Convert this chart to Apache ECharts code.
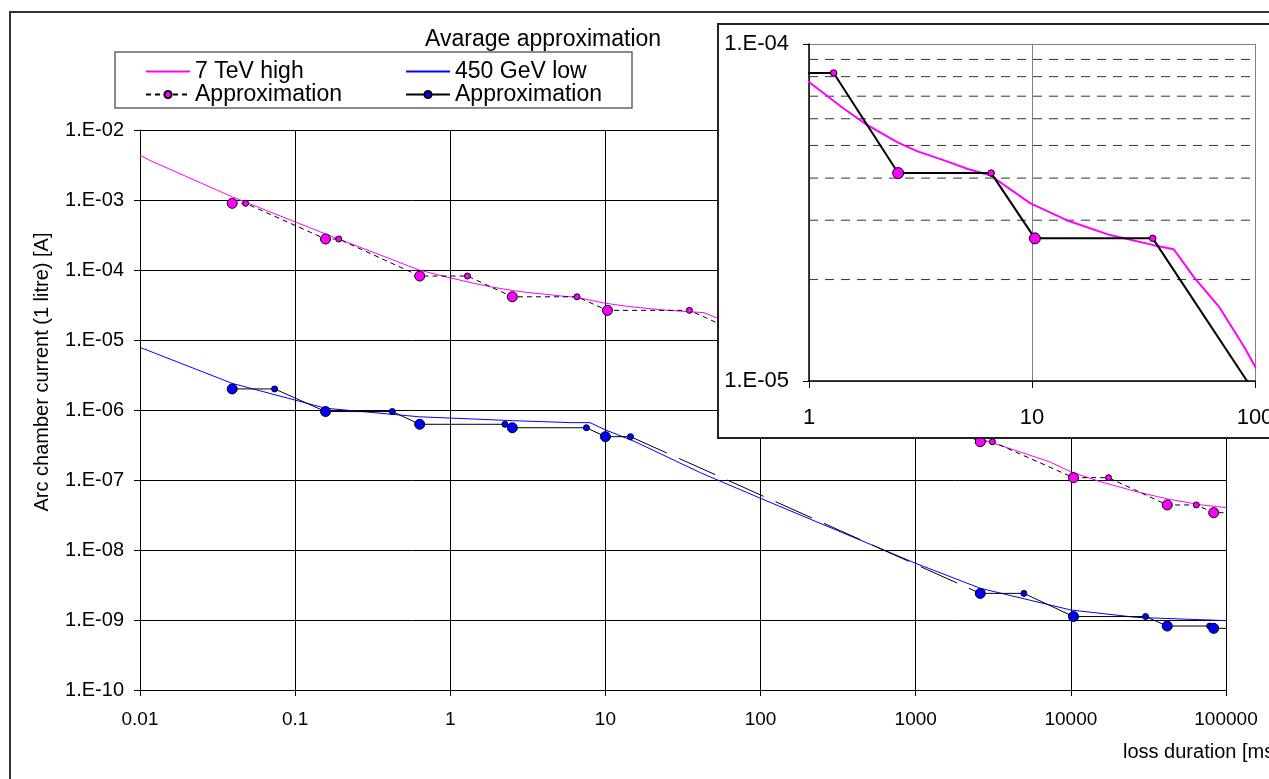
<!DOCTYPE html>
<html>
<head>
<meta charset="utf-8">
<script src="https://cdn.jsdelivr.net/npm/echarts@6/dist/echarts.min.js"></script>
<style>
html, body { margin: 0; padding: 0; background: #fff; }
#chart { width: 1269px; height: 779px; }
</style>
</head>
<body>
<div id="chart"></div>
<script>
// 7 TeV high (magenta curve), loss duration [ms] -> current [A]
const highX = [0.01, 0.0115, 0.0393, 0.157, 0.63, 0.955, 1.4, 1.82, 2.51, 3.07, 4.1, 5.19, 6.5, 9.8, 14.3, 22.4, 35.1, 43.2, 53, 69, 89.6, 107, 2606, 3070, 7260, 10000, 15400, 26500, 42900, 69800, 110000];
const highY = [4.4e-3, 3.7e-3, 1.11e-3, 3.27e-4, 1.0e-4, 7.9e-5, 6.5e-5, 5.75e-5, 5.1e-5, 4.8e-5, 4.5e-5, 4.25e-5, 4.08e-5, 3.37e-5, 3.0e-5, 2.71e-5, 2.53e-5, 2.46e-5, 2.04e-5, 1.66e-5, 1.26e-5, 1.02e-5, 3.9e-7, 3.45e-7, 1.83e-7, 1.31e-7, 9.5e-8, 6.8e-8, 5.3e-8, 4.4e-8, 3.94e-8];

// 450 GeV low (blue curve)
const lowX = [0.01, 0.0393, 0.157, 0.63, 2.51, 5.97, 7.95, 10, 15.5, 41, 100, 1000, 2606, 10000, 26500, 100000, 110000];
const lowY = [7.85e-6, 2.4e-6, 1.06e-6, 8.0e-7, 7.05e-7, 6.6e-7, 6.6e-7, 5.2e-7, 3.53e-7, 1.27e-7, 5.47e-8, 6.45e-9, 2.84e-9, 1.39e-9, 1.09e-9, 9.8e-10, 9.7e-10];

// step approximations (even index = start of step, odd = end of step)
const highApproxX = [0.0393, 0.0479, 0.157, 0.191, 0.635, 1.29, 2.51, 6.56, 10.3, 34.8, 2606, 3120, 10400, 17500, 41800, 64400, 83300, 130000];
const highApproxY = [8.96e-4, 8.96e-4, 2.77e-4, 2.77e-4, 8.2e-5, 8.2e-5, 4.14e-5, 4.14e-5, 2.65e-5, 2.65e-5, 3.52e-7, 3.52e-7, 1.08e-7, 1.08e-7, 4.4e-8, 4.4e-8, 3.41e-8, 3.41e-8];

const lowApproxX = [0.0393, 0.0737, 0.157, 0.423, 0.635, 2.25, 2.51, 7.54, 10, 14.5, 2606, 4980, 10400, 30300, 41800, 78500, 83300, 130000];
const lowApproxY = [2.0e-6, 2.0e-6, 9.5e-7, 9.5e-7, 6.25e-7, 6.25e-7, 5.58e-7, 5.58e-7, 4.16e-7, 4.16e-7, 2.4e-9, 2.4e-9, 1.12e-9, 1.12e-9, 8.2e-10, 8.2e-10, 7.6e-10, 7.6e-10];

// tick labels
const xTickLabels = ['0.01', '0.1', '1', '10', '100', '1000', '10000', '100000'];
const yTickLabels = ['1.E-10', '1.E-09', '1.E-08', '1.E-07', '1.E-06', '1.E-05', '1.E-04', '1.E-03', '1.E-02'];
const insetXLabels = ['1', '10', '100'];
const insetYLabels = ['1.E-05', '1.E-04'];
// zoomed box range and its dashed minor grid lines
const insetRangeX = [1, 100];
const insetMinorY = [2e-5, 3e-5, 4e-5, 5e-5, 6e-5, 7e-5, 8e-5, 9e-5];

const FONT = "'Liberation Sans', Arial, sans-serif";

function pairs(xs, ys) {
  return xs.map((x, i) => [x, ys[i]]);
}
function exp10(v) {
  return Math.round(Math.log10(v));
}
// big marker at step start, small one at step end
function stepSize(big, small) {
  return (v, p) => (p.dataIndex % 2 === 0 ? big : small);
}

const lowApproxPts = pairs(lowApproxX, lowApproxY);

// dashed minor lines of the inset, as plain line series on the inset grid
const minorSeries = insetMinorY.map(v => ({
  name: 'minor', type: 'line', xAxisIndex: 1, yAxisIndex: 1, z: 11,
  data: insetRangeX.map(x => [x, v]), symbol: 'none', silent: true,
  lineStyle: { color: '#333', width: 1, type: [9, 7] }
}));

const chart = echarts.init(document.getElementById('chart'));

chart.setOption({
  animation: false,
  backgroundColor: '#fff',
  textStyle: { fontFamily: FONT },
  title: {
    text: 'Avarage approximation',
    left: 425,
    top: 28,
    padding: 0,
    textStyle: { fontSize: 23, fontWeight: 'normal', color: '#000', fontFamily: FONT }
  },
  legend: [
    {
      left: 145, top: 60, orient: 'vertical', padding: 0,
      itemWidth: 44, itemHeight: 9, itemGap: 0, selectedMode: false,
      formatter: n => n.trim(),
      textStyle: { fontSize: 23, color: '#000', lineHeight: 22, fontFamily: FONT },
      data: [{ name: '7 TeV high', itemStyle: { opacity: 0 } }, 'Approximation']
    },
    {
      left: 405, top: 60, orient: 'vertical', padding: 0,
      itemWidth: 44, itemHeight: 9, itemGap: 0, selectedMode: false,
      formatter: n => n.trim(),
      textStyle: { fontSize: 23, color: '#000', lineHeight: 22, fontFamily: FONT },
      data: [{ name: '450 GeV low', itemStyle: { opacity: 0 } }, 'Approximation ']
    }
  ],
  graphic: [
    // outer frame
    { type: 'rect', z: 1, silent: true, shape: { x: 10, y: 12, width: 1300, height: 800 },
      style: { fill: 'none', stroke: '#333', lineWidth: 2 } },
    // legend box
    { type: 'rect', z: 1, silent: true, shape: { x: 115, y: 52, width: 517, height: 56 },
      style: { fill: 'none', stroke: '#666', lineWidth: 1.5 } },
    // zoom box background
    { type: 'rect', z: 5, silent: true, shape: { x: 718, y: 24, width: 600, height: 414 },
      style: { fill: '#fff', stroke: '#222', lineWidth: 2 } },
    // axis titles
    { type: 'text', z: 5, silent: true, x: 42, y: 372, rotation: Math.PI / 2,
      style: { text: 'Arc chamber current (1 litre) [A]', fontSize: 20, fontFamily: FONT, fill: '#000',
        align: 'center', verticalAlign: 'middle', textAlign: 'center', textVerticalAlign: 'middle' } },
    { type: 'text', z: 5, silent: true, left: 1123, top: 742,
      style: { text: 'loss duration [ms]', fontSize: 20, fontFamily: FONT, fill: '#000' } }
  ],
  grid: [
    { left: 140, right: 43, top: 130, bottom: 89, outerBoundsMode: 'none' },
    { left: 809, right: 14, top: 44, bottom: 398, outerBoundsMode: 'none', z: 10 }
  ],
  xAxis: [
    {
      type: 'log', gridIndex: 0, logBase: 10, min: 0.01, max: 100000,
      axisLine: { show: true, lineStyle: { color: '#000', width: 1 } },
      axisTick: { show: true, length: 6, lineStyle: { color: '#000' } },
      axisLabel: { fontSize: 19, margin: 20, color: '#000', showMinLabel: true, showMaxLabel: true,
        formatter: v => xTickLabels[exp10(v) + 2] },
      splitLine: { show: true, lineStyle: { color: '#000', width: 1 } }
    },
    {
      type: 'log', gridIndex: 1, logBase: 10, min: insetRangeX[0], max: insetRangeX[1], z: 10,
      axisLine: { show: true, lineStyle: { color: '#000', width: 1.5 } },
      axisTick: { show: true, length: 7, lineStyle: { color: '#000' } },
      axisLabel: { fontSize: 22, margin: 26, color: '#000', showMinLabel: true, showMaxLabel: true,
        formatter: v => insetXLabels[exp10(v)] },
      splitLine: { show: true, lineStyle: { color: '#808080', width: 1 } }
    }
  ],
  yAxis: [
    {
      type: 'log', gridIndex: 0, logBase: 10, min: 1e-10, max: 1e-2,
      axisLine: { show: true, lineStyle: { color: '#000', width: 1 } },
      axisTick: { show: true, length: 6, lineStyle: { color: '#000' } },
      axisLabel: { fontSize: 20, margin: 16, color: '#000', showMinLabel: true, showMaxLabel: true,
        formatter: v => yTickLabels[exp10(v) + 10] },
      splitLine: { show: true, lineStyle: { color: '#000', width: 1 } }
    },
    {
      type: 'log', gridIndex: 1, logBase: 10, min: 1e-5, max: 1e-4, z: 10,
      axisLine: { show: true, lineStyle: { color: '#000', width: 1.5 } },
      axisTick: { show: true, length: 6, lineStyle: { color: '#000' } },
      axisLabel: { fontSize: 22, margin: 20, color: '#000', showMinLabel: true, showMaxLabel: true,
        formatter: v => insetYLabels[exp10(v) + 5] },
      splitLine: { show: true, lineStyle: { color: '#808080', width: 1 } }
    }
  ],
  series: [
    {
      name: '7 TeV high', type: 'line', xAxisIndex: 0, yAxisIndex: 0,
      data: pairs(highX, highY), symbol: 'none',
      lineStyle: { color: '#ff00ff', width: 1 }, itemStyle: { color: '#ff00ff' }
    },
    {
      name: '450 GeV low', type: 'line', xAxisIndex: 0, yAxisIndex: 0,
      data: pairs(lowX, lowY), symbol: 'none',
      lineStyle: { color: '#0000ff', width: 1 }, itemStyle: { color: '#0000ff' }
    },
    {
      name: 'Approximation', type: 'line', xAxisIndex: 0, yAxisIndex: 0, z: 3,
      data: pairs(highApproxX, highApproxY),
      symbol: 'circle', symbolSize: stepSize(10, 6), showAllSymbol: true,
      lineStyle: { color: '#000', width: 1, type: [5, 4] },
      itemStyle: { color: '#ff00ff', borderColor: '#000', borderWidth: 1 }
    },
    {
      name: 'Approximation ', type: 'line', xAxisIndex: 0, yAxisIndex: 0, z: 3,
      data: lowApproxPts.slice(0, 10),
      symbol: 'circle', symbolSize: stepSize(10, 6), showAllSymbol: true,
      lineStyle: { color: '#000', width: 1 },
      itemStyle: { color: '#0000ff', borderColor: '#000', borderWidth: 1 }
    },
    {
      name: 'Approximation ', type: 'line', xAxisIndex: 0, yAxisIndex: 0, z: 3,
      data: lowApproxPts.slice(10),
      symbol: 'circle', symbolSize: stepSize(10, 6), showAllSymbol: true,
      lineStyle: { color: '#000', width: 1 },
      itemStyle: { color: '#0000ff', borderColor: '#000', borderWidth: 1 }
    },
    {
      name: 'Approximation ', type: 'line', xAxisIndex: 0, yAxisIndex: 0, z: 3,
      data: lowApproxPts.slice(9, 11), symbol: 'none',
      lineStyle: { color: '#000', width: 1, type: [40, 13] }
    },
    // zoomed box
    ...minorSeries,
    {
      name: 'inset high', type: 'line', xAxisIndex: 1, yAxisIndex: 1, z: 12,
      data: pairs(highX, highY), symbol: 'none',
      lineStyle: { color: '#ff00ff', width: 2 }
    },
    {
      name: 'inset approx', type: 'line', xAxisIndex: 1, yAxisIndex: 1, z: 13,
      data: pairs(highApproxX, highApproxY),
      symbol: 'circle', symbolSize: stepSize(11, 6.5), showAllSymbol: true,
      lineStyle: { color: '#000', width: 2 },
      itemStyle: { color: '#ff00ff', borderColor: '#000', borderWidth: 1 }
    }
  ]
});
</script>
</body>
</html>
